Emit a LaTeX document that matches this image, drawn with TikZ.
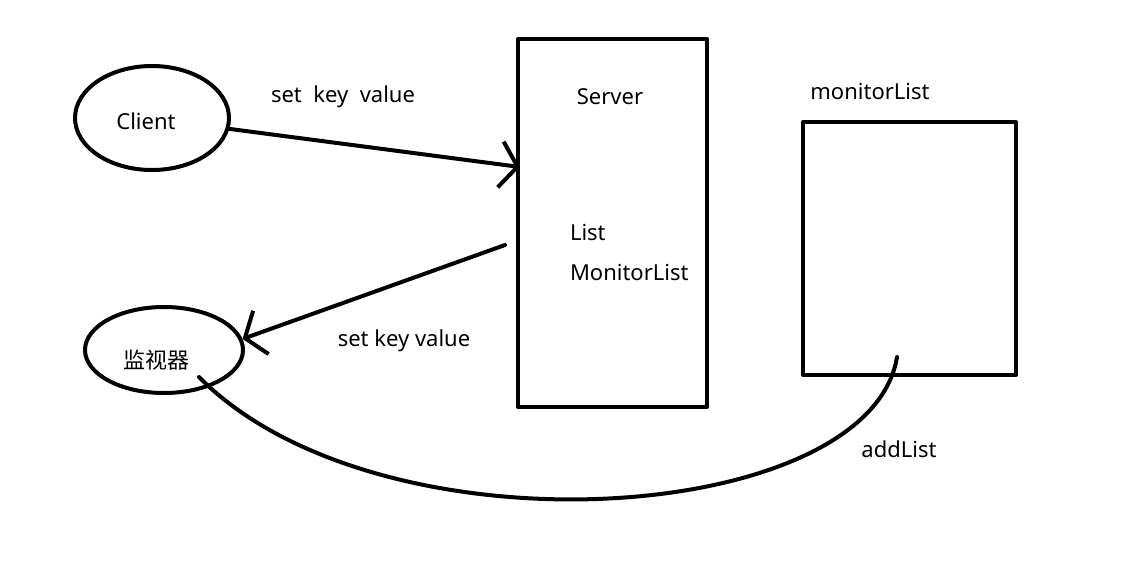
\documentclass[tikz,border=0pt]{standalone}
\usepackage{fontspec}
\setmainfont{Noto Sans}
\newfontfamily\cjk{Noto Sans CJK SC}
\usetikzlibrary{shapes.geometric,arrows.meta}
\begin{document}
\begin{tikzpicture}[x=1pt,y=-1pt,line width=4pt,line join=round,line cap=round,
	font=\fontsize{22}{26}\selectfont,
	>={Straight Barb[length=17pt,width=46pt]},
	oval/.style={draw,ellipse,inner sep=0pt},
	box/.style={draw,rectangle,inner sep=0pt},
	lbl/.style={inner sep=0pt}]
	\useasboundingbox (0,0) rectangle (1136,563);
	% actors
	\node[oval,minimum width=154pt,minimum height=104pt,
		label={[lbl,xshift=-6pt,yshift=-3pt]center:Client}] (client) at (152,118) {};
	\node[oval,minimum width=158pt,minimum height=86pt,
		label={[lbl,xshift=-8pt,yshift=-10pt]center:\cjk 监视器}] (mon) at (164,350) {};
	% boxes
	\node[box,minimum width=189pt,minimum height=368pt] (server) at (612.5,223) {};
	\node[box,minimum width=213pt,minimum height=253pt] (mlist) at (909.5,248.5) {};
	\node[lbl] (srvname) at (610,97) {Server};
	\node[lbl,anchor=west] (list) at (568,232) {List};
	\node[lbl,anchor=west] (monlist) at (568,272) {MonitorList};
	\node[lbl] (mlistname) at (870,91) {monitorList};
	% free ends
	\coordinate (srvin) at (520,167);
	\coordinate (srvout) at (505,245);
	\coordinate (addfrom) at (897,357);
	\coordinate (addto) at (199,377);
	% connectors
	\draw[->] (client.-8) -- (srvin);
	\draw[->] (srvout) -- (mon.8);
	\draw (addfrom) .. controls (870,525) and (380,560) .. (addto);
	\path
	(343,97) node[lbl] (set1) {set\ \ key\ \ value}
	(404,341) node[lbl] (set2) {set key value}
	(899,449) node[lbl] (add) {addList}
	;
\end{tikzpicture}
\end{document}
